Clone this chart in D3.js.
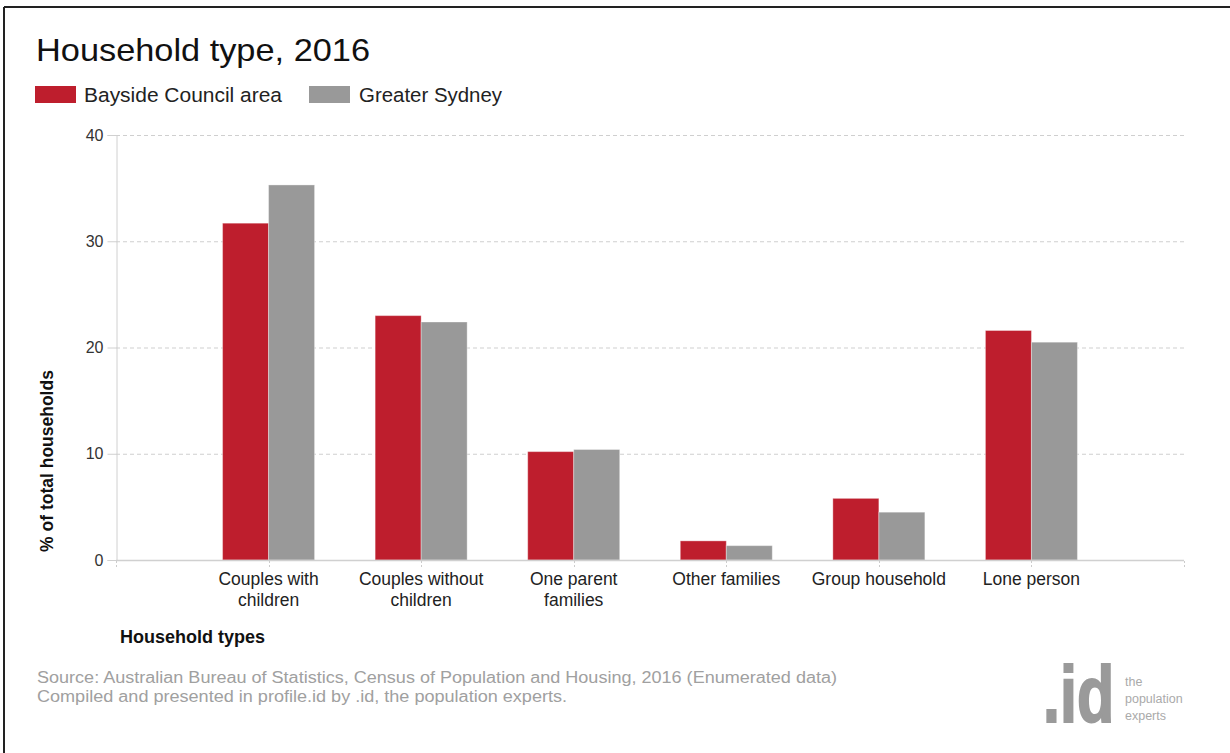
<!DOCTYPE html>
<html><head><meta charset="utf-8">
<script src="https://cdn.jsdelivr.net/npm/d3@7"></script>
<style>body{margin:0;background:#fff}svg{display:block}text{font-family:"Liberation Sans",Arial,sans-serif}</style>
</head><body>
<svg id="c" width="1230" height="753"></svg>
<script>
const categories = [["Couples with","children"],["Couples without","children"],["One parent","families"],["Other families"],["Group household"],["Lone person"]];
const seriesNames = ["Bayside Council area","Greater Sydney"];
const bayside = [31.7, 23.0, 10.2, 1.8, 5.8, 21.6];
const sydney = [35.3, 22.4, 10.4, 1.35, 4.5, 20.5];
const yTicks = [0, 10, 20, 30, 40];
const colors = ["#BE1E2D", "#999999"];

const svg = d3.select("#c");
// frame
svg.append("line").attr("x1",4).attr("x2",1230).attr("y1",7).attr("y2",7).attr("stroke","#222").attr("stroke-width",2);
svg.append("line").attr("x1",4).attr("x2",4).attr("y1",7).attr("y2",753).attr("stroke","#222").attr("stroke-width",2);

const x = d3.scaleLinear().domain([0, categories.length + 1]).range([116, 1184]);
const y = d3.scaleLinear().domain([0, 40]).range([560, 135]);
const barW = 46;

// title
svg.append("text").attr("x",36).attr("y",61).attr("font-size",31.5).attr("fill","#111")
  .attr("textLength",334).attr("lengthAdjust","spacingAndGlyphs").text("Household type, 2016");

// legend
const lg = [[35,84,198],[309,359,143]];
seriesNames.forEach((n,i)=>{
  svg.append("rect").attr("x",lg[i][0]).attr("y",86).attr("width",41).attr("height",17).attr("fill",colors[i]);
  svg.append("text").attr("x",lg[i][1]).attr("y",101.5).attr("font-size",20.5).attr("fill","#222")
    .attr("textLength",lg[i][2]).attr("lengthAdjust","spacingAndGlyphs").text(n);
});

// gridlines
svg.append("g").selectAll("line").data(yTicks.filter(d=>d>0)).join("line")
  .attr("x1",116).attr("x2",1184).attr("y1",d=>y(d)+0.5).attr("y2",d=>y(d)+0.5)
  .attr("stroke","#cfcfcf").attr("stroke-dasharray","4,3");

// y axis
const yAxis = d3.axisLeft(y).tickValues(yTicks).tickSize(9).tickPadding(4);
const yg = svg.append("g").attr("transform","translate(116.5,0)").call(yAxis);
yg.select(".domain").attr("stroke","#d0d0d0");
yg.selectAll(".tick line").attr("stroke","#d0d0d0");
yg.selectAll(".tick text").attr("font-size",16).attr("fill","#333").attr("font-family","Liberation Sans, Arial, sans-serif");

// bars
const data = categories.map((c,i)=>({c, i, v:[bayside[i], sydney[i]]}));
const g = svg.append("g");
data.forEach(d=>{
  const cx = x(d.i+1);
  d.v.forEach((v,k)=>{
    g.append("rect").attr("x", cx - barW + k*barW).attr("y", y(v)).attr("width", barW).attr("height", y(0)-y(v))
      .attr("fill", colors[k]).attr("stroke", "rgba(255,255,255,0.35)").attr("stroke-width",1);
  });
});

// x axis
svg.append("line").attr("x1",116).attr("x2",1184).attr("y1",560.5).attr("y2",560.5).attr("stroke","#d0d0d0").attr("stroke-width",1.5);
const xt = d3.range(0, categories.length + 2);
svg.append("g").selectAll("line").data(xt).join("line")
  .attr("x1",d=>Math.round(x(d))+0.5).attr("x2",d=>Math.round(x(d))+0.5).attr("y1",561).attr("y2",568)
  .attr("stroke","#ccc").attr("stroke-dasharray","2,2");

// x labels
const xl = svg.append("g");
data.forEach(d=>{
  const t = xl.append("text").attr("x", x(d.i+1)).attr("y",584.5).attr("text-anchor","middle").attr("font-size",17.5).attr("fill","#222");
  d.c.forEach((line,j)=>t.append("tspan").attr("x", x(d.i+1)).attr("dy", j===0?0:21).text(line));
});

// axis titles
svg.append("text").attr("x",120).attr("y",643).attr("font-size",18).attr("font-weight","bold").attr("fill","#111").text("Household types");
svg.append("text").attr("transform","translate(53,461) rotate(-90)").attr("text-anchor","middle").attr("font-size",17.5).attr("font-weight","bold").attr("fill","#111").text("% of total households");

// source
svg.append("text").attr("x",37).attr("y",683).attr("font-size",16).attr("fill","#a0a0a0")
  .attr("textLength",800).attr("lengthAdjust","spacingAndGlyphs")
  .text("Source: Australian Bureau of Statistics, Census of Population and Housing, 2016 (Enumerated data)");
svg.append("text").attr("x",37).attr("y",702).attr("font-size",16).attr("fill","#a0a0a0")
  .attr("textLength",530).attr("lengthAdjust","spacingAndGlyphs")
  .text("Compiled and presented in profile.id by .id, the population experts.");

// logo
svg.append("text").attr("transform","translate(1043,722) scale(1,1.3)").attr("font-size",61).attr("font-weight","bold").attr("fill","#9a9a9a")
  .attr("stroke","#9a9a9a").attr("stroke-width",1.5).text(".id");
const lt = svg.append("text").attr("x",1125).attr("y",686).attr("font-size",12.5).attr("fill","#aaa");
["the","population","experts"].forEach((t,i)=>{
  lt.append("tspan").attr("x",1125).attr("dy", i===0?0:17).text(t);
});
</script>
</body></html>
